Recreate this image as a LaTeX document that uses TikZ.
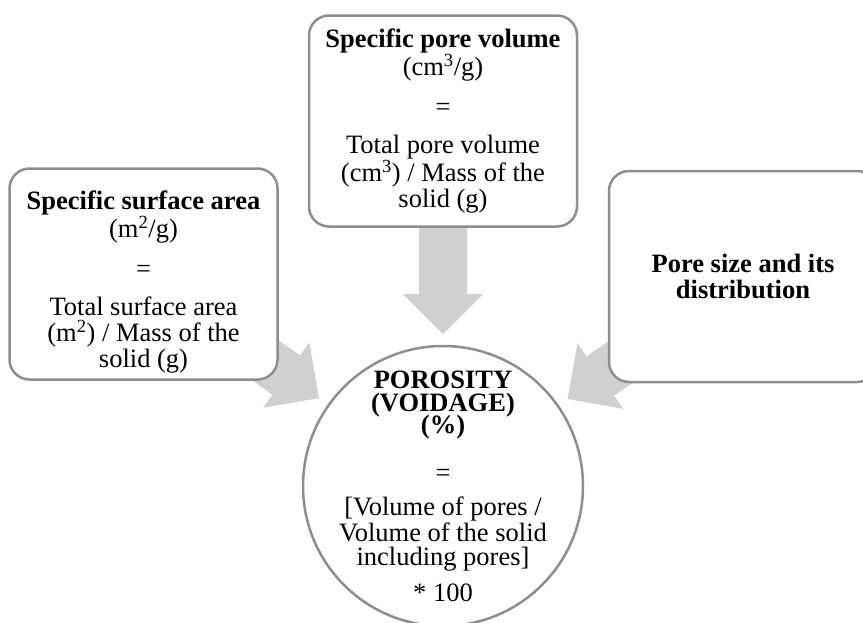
\documentclass[tikz,border=0pt]{standalone}
\usepackage{fontspec}
\setmainfont{Liberation Serif}
\usetikzlibrary{calc,backgrounds}
\definecolor{edgegray}{HTML}{8E8E8E}
\definecolor{arrowgray}{HTML}{D0D0D0}
\tikzset{
  x=1pt, y=-1pt,
  infobox/.style={draw=edgegray, line width=2.5pt, fill=white, rounded corners=20pt,
    minimum width=268pt, minimum height=211pt, inner sep=0pt, align=center,
    font=\fontsize{26.5}{26}\selectfont},
  hub/.style={circle, draw=edgegray, line width=2.5pt, fill=white,
    minimum size=280pt, inner sep=0pt},
  hubtext/.style={align=center, inner sep=0pt, font=\fontsize{26.5}{26}\selectfont},
  blockfill/.style={fill=arrowgray},
}
% broad block arrow from #1 to #2: shaft 48pt, head 80pt wide and 40pt long
\newcommand\blockarrow[2]{%
  \coordinate (#1-#2-h) at ($(#2)!40pt!(#1)$);
  \fill[blockfill]
    ($(#1)!24pt!90:(#2)$) -- ($(#1-#2-h)!24pt!90:(#2)$) -- ($(#1-#2-h)!40pt!90:(#2)$)
    -- (#2)
    -- ($(#1-#2-h)!40pt!-90:(#2)$) -- ($(#1-#2-h)!24pt!-90:(#2)$) -- ($(#1)!24pt!-90:(#2)$)
    -- cycle;
}
\begin{document}
\begin{tikzpicture}
\useasboundingbox (0,0) rectangle (863,622);

\node[hub] (circ) at (443,486) {};
\node[hubtext] (circtext) at (443,486) {%
  \textbf{POROSITY}\\[-3pt]
  \textbf{(VOIDAGE)}\\[-4pt]
  \textbf{(\%)}\\[22pt]
  =\\[8pt]
  [Volume of pores /\\
  Volume of the solid\\[-2pt]
  including pores]\\[10pt]
  * 100};

\node[infobox] (lbox) at (143.5,274) {%
  \rule{0pt}{34pt}\textbf{Specific surface area}\\
  (m\textsuperscript{2}/g)\\[14pt]
  =\\[12pt]
  Total surface area\\
  (m\textsuperscript{2}) / Mass of the\\
  solid (g)};

\node[infobox] (tbox) at (443,121) {%
  \textbf{Specific pore volume}\\
  (cm\textsuperscript{3}/g)\\[14pt]
  =\\[12pt]
  Total pore volume\\
  (cm\textsuperscript{3}) / Mass of the\\
  solid (g)};

\node[infobox] (rbox) at (743,276.5) {%
  \textbf{Pore size and its}\\
  \textbf{distribution}};

% arrow tips sit just outside the circle, on the line to each box centre
\coordinate (ltip) at ($(circ.center)!152pt!(lbox.center)$);
\coordinate (ttip) at ($(circ.center)!152pt!(tbox.center)$);
\coordinate (rtip) at ($(circ.center)!152pt!(rbox.center)$);

\begin{scope}[on background layer]
  \blockarrow{lbox}{ltip}
  \blockarrow{tbox}{ttip}
  \blockarrow{rbox}{rtip}
\end{scope}
\end{tikzpicture}
\end{document}
